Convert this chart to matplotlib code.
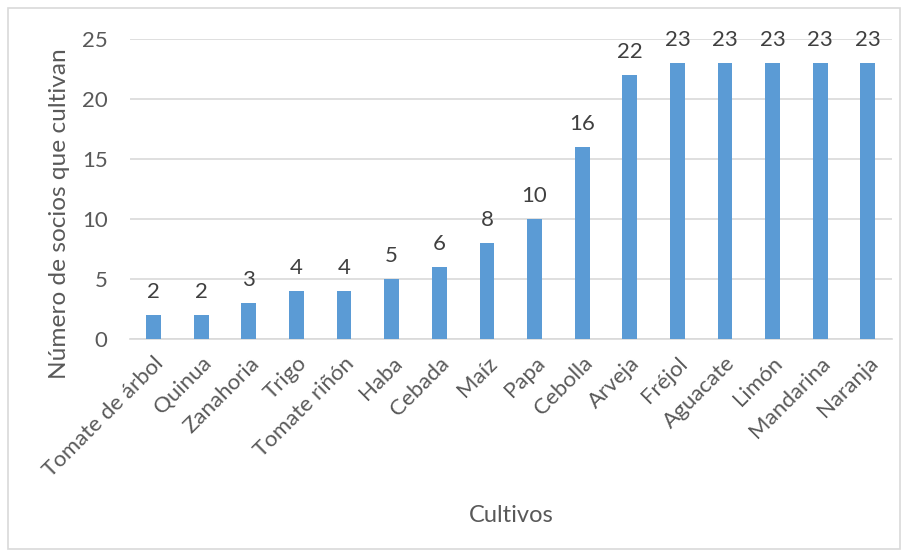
import matplotlib.pyplot as plt
from matplotlib.patches import Rectangle

cultivos = ['Tomate de árbol', 'Quinua', 'Zanahoria', 'Trigo', 'Tomate riñón',
            'Haba', 'Cebada', 'Maíz', 'Papa', 'Cebolla', 'Arveja', 'Fréjol',
            'Aguacate', 'Limón', 'Mandarina', 'Naranja']
socios = [2, 2, 3, 4, 4, 5, 6, 8, 10, 16, 22, 23, 23, 23, 23, 23]
y_ticks = [0, 5, 10, 15, 20, 25]

text_color = '#595959'
plt.rcParams['font.family'] = ['Lato', 'DejaVu Sans']

fig = plt.figure(figsize=(9.08, 5.57), dpi=100)
ax = fig.add_axes([0.143, 0.391, 0.839, 0.539])

x = list(range(len(cultivos)))
bars = ax.bar(x, socios, width=0.31, color='#5B9BD5', zorder=3)
for xi, v in zip(x, socios):
    ax.text(xi, v + 1.08, str(v), ha='center', va='bottom', fontsize=16, color='#404040')

ax.set_xlim(-0.5, len(cultivos) - 0.5)
ax.set_ylim(0, 25)
ax.set_yticks(y_ticks)
ax.set_xticks(x)
ax.set_xticklabels(cultivos, rotation=45, ha='right', rotation_mode='anchor',
                   fontsize=16, color=text_color)
ax.tick_params(axis='y', labelsize=16, colors=text_color, length=0, pad=16)
ax.tick_params(axis='x', length=0, pad=10)
ax.grid(axis='y', color='#D9D9D9', linewidth=1.2, zorder=0)
for side in ['top', 'right', 'left']:
    ax.spines[side].set_visible(False)
ax.spines['bottom'].set_color('#D9D9D9')
ax.spines['bottom'].set_linewidth(1.2)

ax.set_ylabel('Número de socios que cultivan', fontsize=17.6, color=text_color)
ax.yaxis.set_label_coords(-0.079, 0.417)
fig.text(0.5625, 0.075, 'Cultivos', ha='center', va='center', fontsize=17, color=text_color)

fig.patches.append(Rectangle((0.009, 0.014), 0.982, 0.972, transform=fig.transFigure,
                             fill=False, edgecolor='#D9D9D9', linewidth=1.2))

fig.savefig('out.png', dpi=100)
